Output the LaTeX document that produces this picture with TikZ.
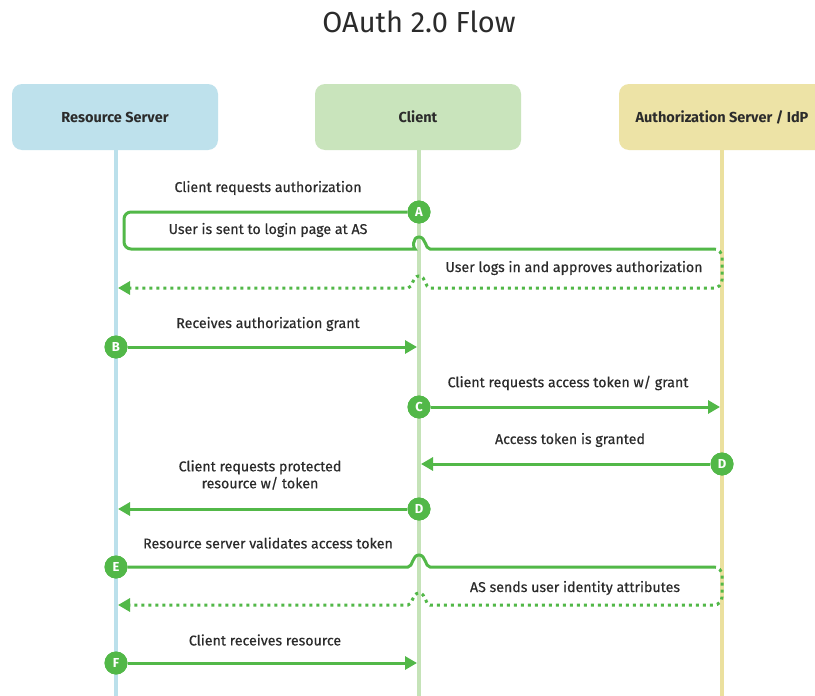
\documentclass[tikz,border=0pt]{standalone}
\usepackage{fontspec}
\setmainfont{Fira Sans}
\newfontfamily\lblfont{Fira Sans}[FakeBold=0.4]
\usetikzlibrary{arrows.meta}
\definecolor{flow}{HTML}{52B848}
\definecolor{rsfill}{HTML}{BEE1EC}
\definecolor{clfill}{HTML}{C9E4BC}
\definecolor{asfill}{HTML}{EDE3A6}
\definecolor{rsline}{HTML}{BBE0EB}
\definecolor{clline}{HTML}{C5E3B8}
\definecolor{asline}{HTML}{EBE09E}
\definecolor{txt}{HTML}{2B2B2B}
\tikzset{
  actor/.style={rounded corners=10pt, minimum width=206pt, minimum height=66pt, draw=none, text=txt, font=\fontsize{14.5}{16}\selectfont\bfseries},
  lifeline/.style={line width=4pt},
  badge/.style={circle, fill=flow, minimum size=23pt, inner sep=0pt, text=white, font=\fontsize{13}{14}\selectfont\bfseries},
  flowline/.style={draw=flow, line width=3pt},
  flowdot/.style={draw=flow, line width=3pt, dash pattern=on 3pt off 4pt},
  tip/.style={-{Triangle[length=12pt,width=13pt]}},
  lbl/.style={text=txt, font=\lblfont\fontsize{14.2}{17}\selectfont, inner sep=0pt, align=center},
}
\begin{document}
\begin{tikzpicture}[x=1pt,y=-1pt]
\useasboundingbox (0,0) rectangle (815,696);
\clip (0,0) rectangle (815,696);
\fill[white] (0,0) rectangle (815,696);
% title
\node[text=txt, font=\fontsize{29}{32}\selectfont] (title) at (419,22) {OAuth 2.0 Flow};
% actors
\node[actor, fill=rsfill] (rs) at (115,117) {Resource Server};
\node[actor, fill=clfill] (cl) at (418,117) {Client};
\node[actor, fill=asfill] (as) at (722,117) {Authorization Server / IdP};
% lifelines
\coordinate (rsB) at (116,700);
\coordinate (clB) at (419,700);
\coordinate (asB) at (722,700);
\draw[lifeline, draw=rsline] (rs.south -| rsB) -- (rsB);
\draw[lifeline, draw=clline] (cl.south -| clB) -- (clB);
\draw[lifeline, draw=asline] (as.south -| asB) -- (asB);
% ---- step A
\node[lbl] (lA) at (268,188) {Client requests authorization};
\node[lbl] (lA2) at (268,230) {User is sent to login page at AS};
\node[lbl] (lA3) at (574,268) {User logs in and approves authorization};
\node[badge] (A) at (419,212) {A};
\coordinate (endA) at (118,288);
\draw[flowline, rounded corners=7pt] (A) -- (124,212) -- (124,249) -- (408,249)
  [sharp corners] .. controls (413,249) and (412,237) .. (419,237) .. controls (426,237) and (425,249) .. (430,249) -- (713,249);
\draw[flowdot, tip] (713,249) [rounded corners=8pt] -- (722,249) -- (722,288) -- (440,288)
  [sharp corners] -- (430,288) .. controls (425,288) and (426,276) .. (419,276) .. controls (412,276) and (413,288) .. (408,288) -- (endA);
\node[badge] at (A) {A};
% ---- step B
\node[lbl] (lB) at (268,324) {Receives authorization grant};
\node[badge] (B) at (116,347) {B};
\coordinate (endB) at (417,347);
\draw[flowline, tip] (B) -- (endB);
\node[badge] at (B) {B};
% ---- step C
\node[lbl] (lC) at (568,383) {Client requests access token w/ grant};
\node[badge] (C) at (419,407) {C};
\coordinate (endC) at (720,407);
\draw[flowline, tip] (C) -- (endC);
\node[badge] at (C) {C};
% ---- step D (AS)
\node[lbl] (lD) at (570,440) {Access token is granted};
\node[badge] (D1) at (722,464) {D};
\coordinate (endD1) at (421,464);
\draw[flowline, tip] (D1) -- (endD1);
\node[badge] at (D1) {D};
% ---- step D (client)
\node[lbl] (lD2) at (260,475) {Client requests protected\\resource w/ token};
\node[badge] (D2) at (419,509) {D};
\coordinate (endD2) at (118,509);
\draw[flowline, tip] (D2) -- (endD2);
\node[badge] at (D2) {D};
% ---- step E
\node[lbl] (lE) at (268,543) {Resource server validates access token};
\node[lbl] (lE2) at (575,588) {AS sends user identity attributes};
\node[badge] (E) at (116,567) {E};
\coordinate (endE) at (118,605);
\draw[flowline] (E) -- (408,567) .. controls (413,567) and (412,555) .. (419,555) .. controls (426,555) and (425,567) .. (430,567) -- (713,567);
\draw[flowdot, tip] (713,567) [rounded corners=8pt] -- (722,567) -- (722,605) -- (440,605)
  [sharp corners] -- (430,605) .. controls (425,605) and (426,593) .. (419,593) .. controls (412,593) and (413,605) .. (408,605) -- (endE);
\node[badge] at (E) {E};
% ---- step F
\node[lbl] (lF) at (265,640) {Client receives resource};
\node[badge] (F) at (116,663) {F};
\coordinate (endF) at (417,663);
\draw[flowline, tip] (F) -- (endF);
\node[badge] at (F) {F};
\end{tikzpicture}
\end{document}
